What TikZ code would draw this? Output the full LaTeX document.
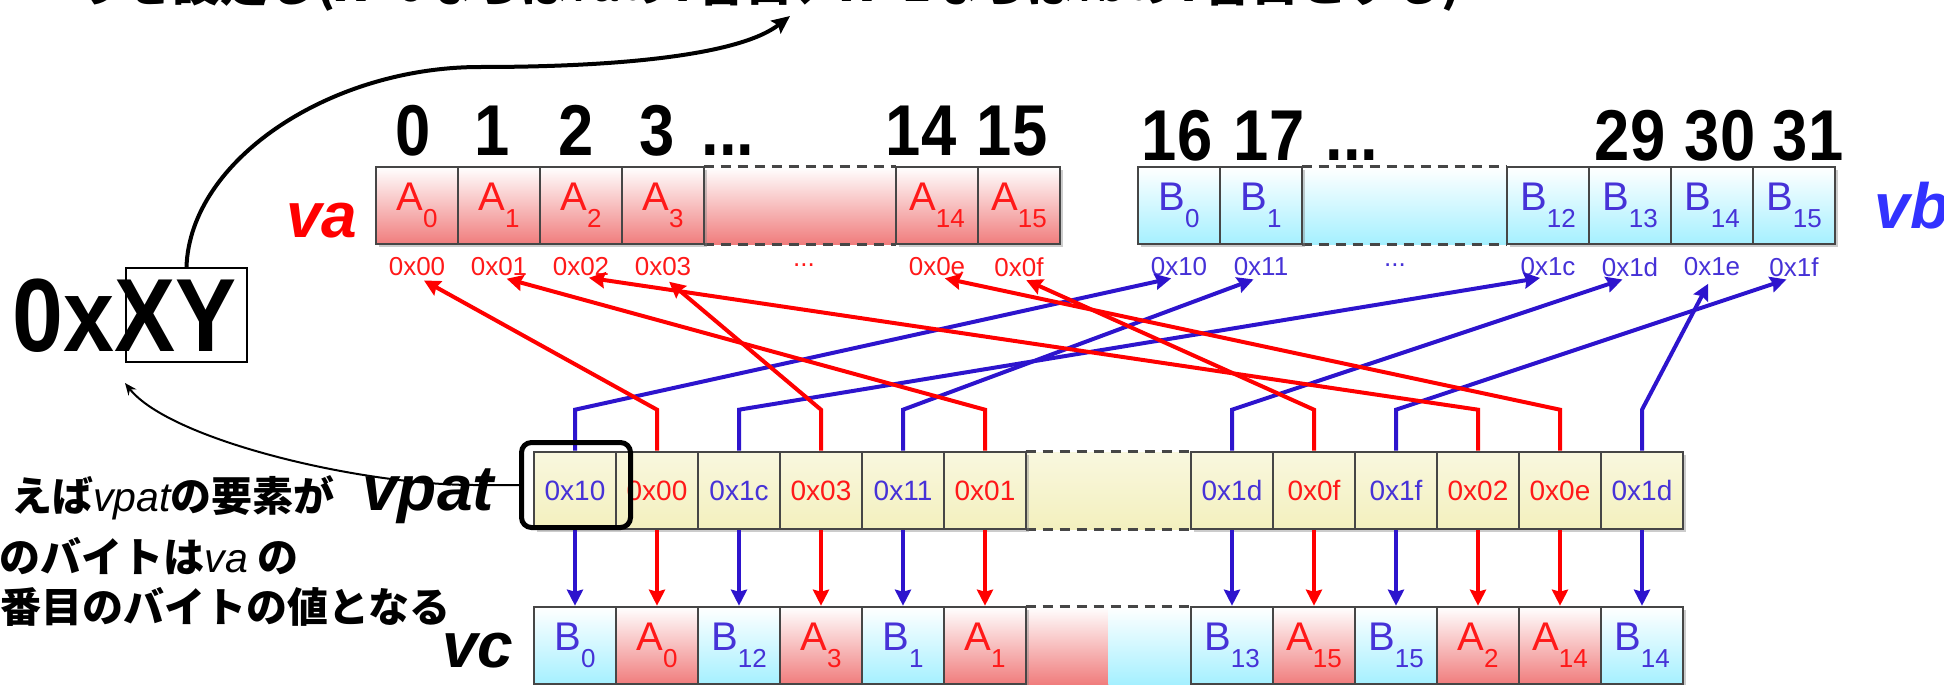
\documentclass[tikz,border=0pt]{standalone}
\usepackage{fontspec}
\setmainfont{Liberation Sans}
\newfontfamily\narrow{Liberation Sans}[FakeStretch=0.88]
\newfontfamily\jp{Noto Sans CJK JP}
\usetikzlibrary{arrows.meta,shadows}

\definecolor{atxt}{RGB}{255,25,25}
\definecolor{btxt}{RGB}{70,50,215}
\definecolor{awirecol}{RGB}{255,0,0}
\definecolor{bwirecol}{RGB}{45,20,205}
\definecolor{vbcol}{RGB}{50,50,255}
\definecolor{apink}{RGB}{240,125,125}
\definecolor{bcyan}{RGB}{165,240,255}
\definecolor{pylw}{RGB}{243,240,190}
\definecolor{cellline}{RGB}{70,70,70}

\newcommand\cellname[2]{#1\raisebox{-8.5pt}{\fontsize{13}{13}\selectfont #2}}
\newcommand\lat[1]{{\rmfamily\mdseries\itshape #1}}

\begin{document}
\begin{tikzpicture}[x=0.5pt,y=-0.5pt,
    cell/.style={draw=cellline,line width=1.3pt,inner sep=0pt,
      minimum width=41pt,minimum height=38.5pt,
      drop shadow={shadow xshift=1.5pt,shadow yshift=-1.5pt,opacity=0.4}},
    acell/.style={cell,top color=white,bottom color=apink,text=atxt,
      font=\fontsize{20}{20}\selectfont},
    bcell/.style={cell,top color=white,bottom color=bcyan,text=btxt,
      font=\fontsize{20}{20}\selectfont},
    pcell/.style={cell,top color=white!50!pylw,bottom color=pylw,
      font=\fontsize{14}{14}\selectfont},
    gapcell/.style={inner sep=0pt,minimum height=38.5pt},
    gapedge/.style={cellline,line width=1.3pt,dash pattern=on 5pt off 3.5pt},
    idx/.style={anchor=base,inner sep=0pt,font=\narrow\bfseries\fontsize{36}{36}\selectfont},
    hex/.style={inner sep=0pt,font=\fontsize{13}{13}\selectfont},
    vname/.style={anchor=base west,inner sep=0pt,
      font=\bfseries\itshape\fontsize{32}{32}\selectfont},
    jptxt/.style={inner sep=0pt,font=\jp\bfseries\fontsize{20.5}{24}\selectfont},
    awire/.style={awirecol,line width=2pt,-{Stealth[length=8pt,width=8pt,inset=1pt]}},
    bwire/.style={bwirecol,line width=2pt,-{Stealth[length=8pt,width=8pt,inset=1pt]}}]
  \useasboundingbox (0,0) rectangle (1944,685);

  % caption line, mostly above the page
  \node[jptxt,anchor=base west,font=\jp\bfseries\fontsize{24}{24}\selectfont] (cap) at (76,2)
    {りを設定し(X=0ならば\lat{va}のY番目、X=1ならば\lat{vb}のY番目とする)};

  % byte value and its pointer to the caption
  \node[anchor=base west,inner sep=0pt,font=\narrow\bfseries\fontsize{52}{52}\selectfont]
    (num) at (12,351) {0xXY};
  \node[draw,line width=1pt,inner sep=0pt,minimum width=60.5pt,minimum height=47pt]
    (xy) at (186.5,315) {};
  \coordinate (capY) at (790,16);
  \draw[line width=2pt,-{Stealth[length=9pt,width=8pt,inset=1.5pt]}]
    (xy.north) .. controls (190,160) and (330,67) .. (480,67)
    .. controls (620,67) and (740,55) .. (capY);

  % va
  \node[gapcell,minimum width=96pt,top color=white,bottom color=apink] (agap) at (800,205.5) {};
  \draw[gapedge] (agap.north west) -- (agap.north east) (agap.south west) -- (agap.south east);
  \foreach \i/\n in {0/413,1/492,2/576,3/657} {
    \node[acell] (a\i) at ({417+82*\i},205.5) {\cellname{A}{\i}};
    \node[idx] (na\i) at (\n,155) {\i};
    \node[hex,text=atxt] (h0\i) at ({417+82*\i},267) {0x0\i};
  }
  \node[acell] (a14) at (937,205.5) {\cellname{A}{14}};
  \node[acell] (a15) at (1019,205.5) {\cellname{A}{15}};
  \node[idx,anchor=base west] (nadots) at (701,155) {...};
  \node[idx] (na14) at (921,155) {14};
  \node[idx] (na15) at (1012,155) {15};
  \node[hex,text=atxt] (hadots) at (804,265) {...};
  \node[hex,text=atxt] (h0e) at (937,267) {0x0e};
  \node[hex,text=atxt] (h0f) at (1019,267) {0x0f};
  \node[vname,text=awirecol] (lva) at (286,237) {va};

  % vb
  \node[gapcell,minimum width=102.5pt,top color=white,bottom color=bcyan] (bgap) at (1404.5,205.5) {};
  \draw[gapedge] (bgap.north west) -- (bgap.north east) (bgap.south west) -- (bgap.south east);
  \foreach \i/\h/\x in {0/10/1179,1/11/1261,12/1c/1548,13/1d/1630,14/1e/1712,15/1f/1794} {
    \node[bcell] (b\i) at (\x,205.5) {\cellname{B}{\i}};
    \node[hex,text=btxt] (h\h) at (\x,267) {0x\h};
  }
  \foreach \n/\x in {16/1177,17/1269,29/1630,30/1720,31/1808}
    \node[idx] (nb\n) at (\x,160) {\n};
  \node[idx,anchor=base west] (nbdots) at (1325,160) {...};
  \node[hex,text=btxt] (hbdots) at (1395,265) {...};
  \node[vname,text=vbcol] (lvb) at (1874,228) {vb};

  % vpat and vc
  \node[gapcell,minimum width=82.5pt,top color=white!50!pylw,bottom color=pylw] (pgap) at (1108.5,490.5) {};
  \draw[gapedge] (pgap.north west) -- (pgap.north east) (pgap.south west) -- (pgap.south east);
  \node[gapcell,minimum width=82.5pt] (cgap) at (1108.5,645.5) {};
  \shade[top color=white,bottom color=apink] (cgap.north west) rectangle (cgap.south);
  \shade[top color=white,bottom color=bcyan] (cgap.north) rectangle (cgap.south east);
  \draw[gapedge] (cgap.north west) -- (cgap.north east);
  \foreach \x/\side/\L/\v/\h/\s [count=\k] in {575/b/B/10/10/0,657/a/A/00/00/0,
      739/b/B/1c/1c/12,821/a/A/03/03/3,903/b/B/11/11/1,985/a/A/01/01/1,
      1232/b/B/1d/1d/13,1314/a/A/0f/0f/15,1396/b/B/1f/1f/15,1478/a/A/02/02/2,
      1560/a/A/0e/0e/14,1642/b/B/1d/1e/14} {
    \node[pcell,text=\side txt] (p\k) at (\x,490.5) {0x\v};
    \node[\side cell] (c\k) at (\x,645.5) {\cellname{\L}{\s}};
    \draw[\side wire,shorten >=4pt] (p\k.north) -- ++(0,-41) -- (h\h.south);
    \draw[\side wire] (p\k.south) -- (c\k.north);
  }
  \node[vname] (lvpat) at (362,510) {vpat};
  \node[vname] (lvc) at (442,667) {vc};

  % example element
  \node[draw,line width=2.5pt,rounded corners=5pt,inner sep=0pt,
    minimum width=54.5pt,minimum height=42.5pt] (hl) at (576,485) {};
  \draw[line width=1pt,-{Stealth[length=6pt,width=5pt]}]
    (hl.west) -- ++(-45,0) .. controls (360,485) and (170,440) .. ([yshift=-10pt]xy.south west);

  \node[jptxt,anchor=east] (l1) at (335,498) {えば\lat{vpat}の要素が};
  \node[jptxt,anchor=east] (l2) at (299,556) {のバイトは\lat{va} の};
  \node[jptxt,anchor=east] (l3) at (451,607) {番目のバイトの値となる};
\end{tikzpicture}
\end{document}
